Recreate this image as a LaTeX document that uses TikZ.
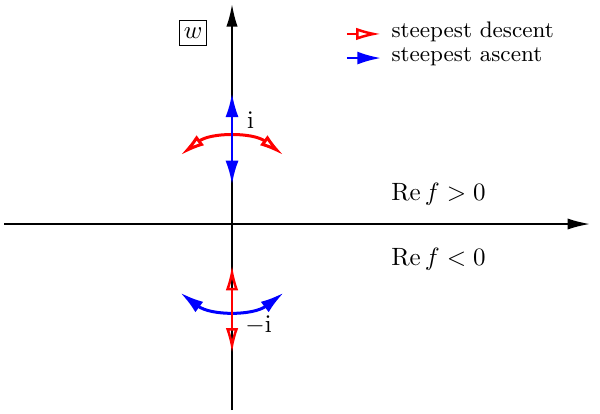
\documentclass[tikz,border=0pt]{standalone}
\usepackage{amsmath}
\usepackage{amssymb}
\usepackage{tikz}
\usetikzlibrary{arrows.meta}
\tikzstyle{axis}=[draw,%
                  line width = 0.8pt,%
                  -{Latex[length=9pt,width=4.5pt]}]
\tikzstyle{descent}=[draw=red,line width=1pt,{Latex[open,length=10pt,width=5pt]}-{Latex[open,length=10pt,width=5pt]}]
\tikzstyle{ascent}=[draw=blue,line width=1pt,{Latex[length=9.5pt,width=5.2pt]}-{Latex[length=9.5pt,width=5.2pt]}]
\tikzstyle{legdescent}=[draw=red,line width=1pt,-{Latex[open,length=10pt,width=5pt]}]
\tikzstyle{legascent}=[draw=blue,line width=1pt,-{Latex[length=9.5pt,width=5.2pt]}]
\tikzstyle{label}=[inner sep=0pt]

\begin{document}
\begin{tikzpicture}[x=1.209cm,y=1.209cm]
            \useasboundingbox (-2.698,-2.198) rectangle (4.279,2.605);
            % axes
            \coordinate (west)  at (-2.651,0);
            \coordinate (east)  at (4.163,0);
            \coordinate (south) at (0,-2.163);
            \coordinate (north) at (0,2.558);
            \draw [axis] (west) -- (east);
            \draw [axis] (south) -- (north);
            \node[draw,inner sep=1.7pt,minimum height=10pt] (w) at (-0.453,2.22) {$w$};
            % saddle at i
            \coordinate (iup)   at (0,1.52);
            \coordinate (idown) at (0,0.46);
            \coordinate (iarc)  at (127:1);
            \draw [descent,line width=1.2pt] (iarc) arc[start angle=127,end angle=53,radius=1];
            \draw [ascent] (idown) -- (iup);
            \node[label] (i) at (0.215,1.21) {$\mathrm{i}$};
            % saddle at -i
            \coordinate (mup)   at (0,-0.48);
            \coordinate (mdown) at (0,-1.5);
            \coordinate (marc)  at (-127:1);
            \draw [ascent,line width=1.2pt] (marc) arc[start angle=-127,end angle=-53,radius=1];
            \draw [descent] (mdown) -- (mup);
            \node[label] (mi) at (0.308,-1.174) {$-\mathrm{i}$};
            % half planes
            \node[label] (pos) at (2.401,0.349) {$\operatorname{Re} f > 0$};
            \node[label] (neg) at (2.401,-0.407) {$\operatorname{Re} f < 0$};
            % legend
            \coordinate (la) at (1.337,2.21);
            \coordinate (lb) at (1.733,2.21);
            \coordinate (lc) at (1.337,1.93);
            \coordinate (ld) at (1.733,1.93);
            \draw [legdescent] (la) -- (lb);
            \draw [legascent] (lc) -- (ld);
            \node[label,anchor=west,font=\small] (desc) at (1.849,2.23) {steepest descent};
            \node[label,anchor=west,font=\small] (asc) at (1.849,1.95) {steepest ascent};
  \end{tikzpicture}
\end{document}
